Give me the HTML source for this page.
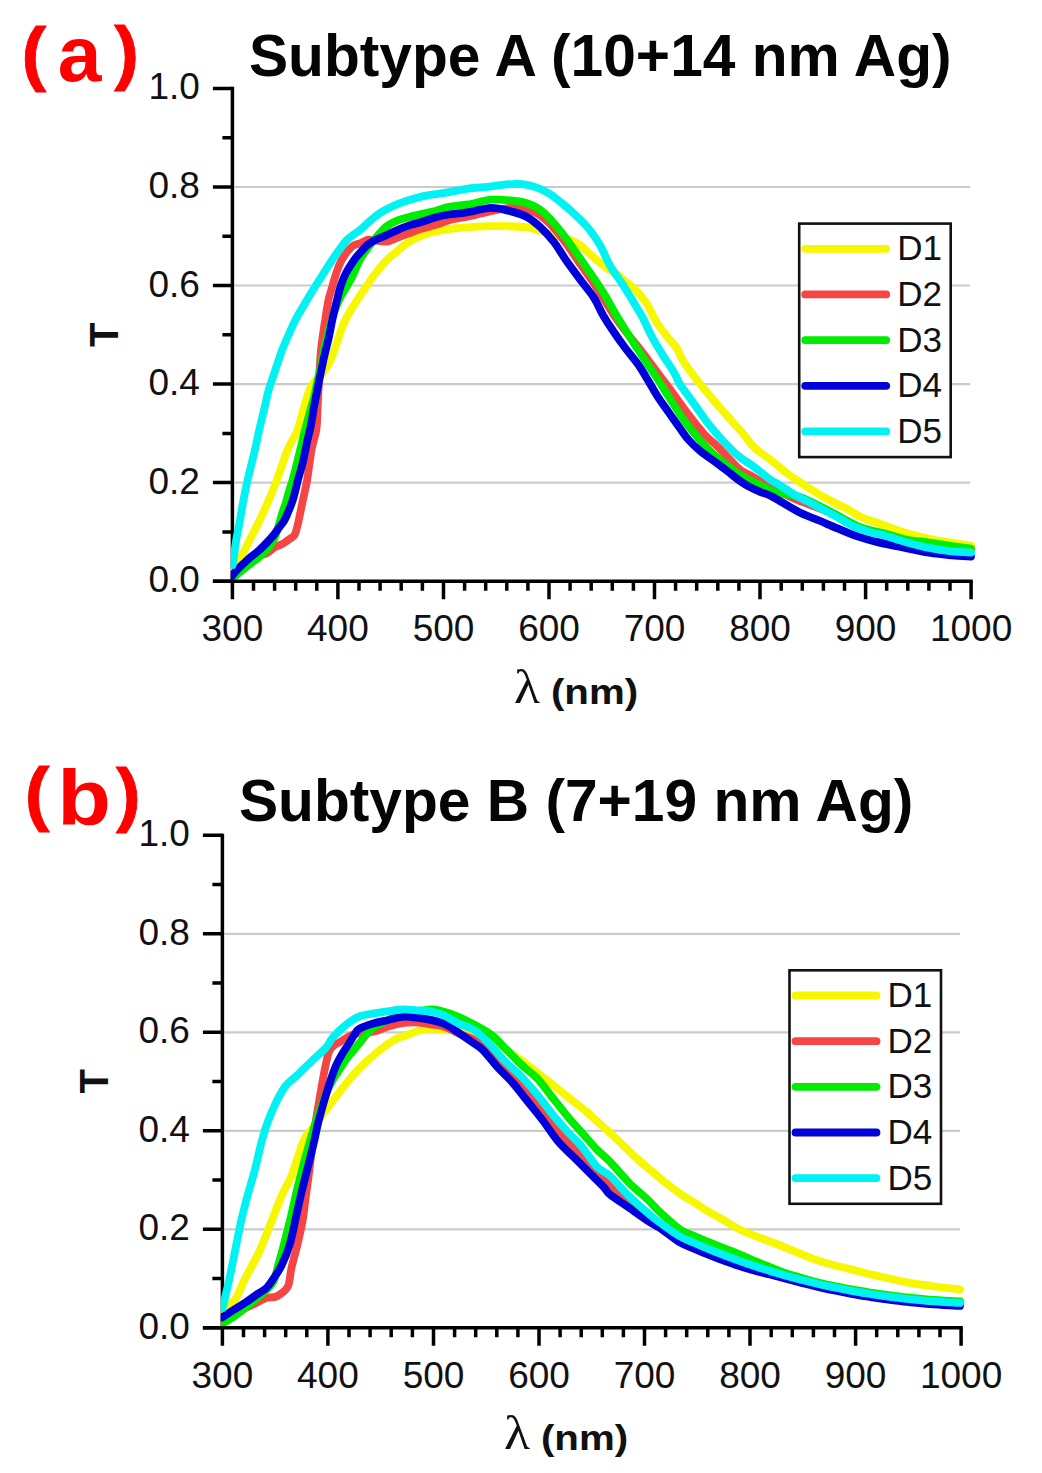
<!DOCTYPE html>
<html><head><meta charset="utf-8"><style>
html,body{margin:0;padding:0;background:#fff;}
svg{display:block;}
text{font-family:"Liberation Sans",sans-serif;fill:#111;}
.tl{font-size:37px;}
.lg{font-size:35px;}
.tt{font-size:58.7px;font-weight:bold;fill:#050505;}
.pl{font-size:78.5px;font-weight:bold;fill:#f00;}
.pp{font-size:70px;font-weight:bold;fill:#f00;stroke:#f00;stroke-width:0.8px;}
.ax{font-size:40px;font-weight:bold;}
.lam{font-family:"Liberation Serif",serif;font-size:48px;}
.nm{font-size:35px;font-weight:bold;}
</style></head><body>
<svg width="1042" height="1473" viewBox="0 0 1042 1473">
<rect width="1042" height="1473" fill="#fff"/>
<line x1="234.4" y1="482.6" x2="970.1" y2="482.6" stroke="#cbcbcb" stroke-width="2.2"/>
<line x1="234.4" y1="384.1" x2="970.1" y2="384.1" stroke="#cbcbcb" stroke-width="2.2"/>
<line x1="234.4" y1="285.5" x2="970.1" y2="285.5" stroke="#cbcbcb" stroke-width="2.2"/>
<line x1="234.4" y1="187.0" x2="970.1" y2="187.0" stroke="#cbcbcb" stroke-width="2.2"/>
<path d="M232.4,86.8 V581.2" fill="none" stroke="#000" stroke-width="3.5"/>
<clipPath id="c581"><rect x="230.7" y="68.4" width="746.7" height="532.8"/></clipPath>
<g clip-path="url(#c581)">
<path d="M232.5,567.0 C233.7,565.8 236.7,564.5 239.5,560.0 C242.3,555.5 246.2,546.7 249.6,540.0 C253.0,533.3 256.5,526.7 259.7,520.0 C262.9,513.3 265.9,506.7 268.8,500.0 C271.7,493.3 273.7,488.3 276.8,480.0 C279.9,471.7 284.9,456.7 287.5,450.0 C290.1,443.3 290.8,443.3 292.5,440.0 C294.2,436.7 295.8,435.0 297.6,430.0 C299.4,425.0 301.2,416.7 303.2,410.0 C305.2,403.3 307.4,395.0 309.5,390.0 C311.6,385.0 313.8,382.9 316.0,380.0 C318.2,377.1 320.8,375.3 323.0,372.5 C325.2,369.7 327.1,366.8 329.0,363.0 C330.9,359.2 332.6,354.7 334.4,350.0 C336.1,345.3 337.7,340.0 339.5,335.0 C341.3,330.0 342.9,325.0 345.3,320.0 C347.7,315.0 350.9,310.0 354.0,305.0 C357.1,300.0 360.4,295.2 363.9,290.0 C367.4,284.8 371.2,279.0 375.0,274.0 C378.8,269.0 383.6,263.4 386.8,260.0 C390.1,256.6 391.9,255.7 394.5,253.5 C397.1,251.3 399.6,248.8 402.2,246.8 C404.8,244.8 407.3,242.9 409.9,241.3 C412.5,239.8 415.0,238.7 417.6,237.5 C420.2,236.3 422.1,235.4 425.3,234.3 C428.5,233.2 432.4,232.1 436.8,231.2 C441.2,230.3 446.7,229.3 452.0,228.7 C457.3,228.0 462.5,227.7 468.4,227.3 C474.3,226.9 481.2,226.4 487.6,226.2 C494.0,226.0 500.4,226.0 506.8,226.2 C513.2,226.4 520.9,226.6 526.0,227.2 C531.1,227.8 532.7,228.7 537.5,230.0 C542.3,231.3 549.2,233.2 555.0,235.0 C560.8,236.8 567.6,238.7 572.0,240.6 C576.4,242.5 578.7,244.1 581.7,246.4 C584.7,248.7 586.2,250.8 590.2,254.3 C594.2,257.8 601.3,264.1 605.9,267.5 C610.5,270.9 614.5,272.4 617.8,274.7 C621.0,277.0 622.4,279.0 625.3,281.5 C628.2,284.0 631.8,286.0 635.3,289.6 C638.8,293.2 643.0,297.8 646.5,303.2 C650.0,308.6 653.2,316.8 656.5,322.2 C659.9,327.6 663.2,331.5 666.5,335.8 C669.9,340.1 673.6,343.4 676.6,348.0 C679.6,352.6 680.7,357.5 684.4,363.2 C688.1,368.9 693.8,376.0 698.8,382.4 C703.9,388.8 709.4,395.4 714.7,401.6 C719.9,407.8 725.8,414.3 730.4,419.5 C735.0,424.7 738.4,428.2 742.5,433.0 C746.6,437.8 750.0,443.3 754.9,448.0 C759.8,452.7 766.1,456.4 772.0,461.0 C777.9,465.6 784.3,471.3 790.2,475.7 C796.1,480.1 801.4,483.4 807.5,487.2 C813.6,491.0 820.3,495.2 826.7,498.7 C833.1,502.2 840.0,505.2 845.9,508.3 C851.8,511.4 855.8,514.7 862.0,517.5 C868.2,520.3 875.7,522.3 883.0,524.9 C890.3,527.5 898.3,530.7 906.0,533.0 C913.7,535.3 921.4,537.1 929.1,538.7 C936.8,540.3 945.1,541.6 952.1,542.8 C959.1,543.9 967.9,545.1 971.0,545.6" fill="none" stroke="#f7f700" stroke-width="7.8" stroke-linejoin="round" stroke-linecap="round"/>
<path d="M232.5,575.0 C234.1,573.5 238.6,569.0 242.0,566.0 C245.4,563.0 248.9,559.1 253.0,557.0 C257.1,554.9 262.9,555.1 266.4,553.5 C269.9,551.9 271.6,549.1 274.1,547.6 C276.7,546.1 279.1,545.7 281.7,544.3 C284.2,542.9 287.2,540.7 289.4,539.1 C291.6,537.5 293.2,537.7 294.8,534.5 C296.4,531.3 297.5,525.8 298.8,520.0 C300.1,514.2 301.5,506.7 302.9,500.0 C304.3,493.3 305.7,488.3 307.1,480.0 C308.5,471.7 310.0,458.3 311.5,450.0 C313.0,441.7 315.3,436.7 316.3,430.0 C317.3,423.3 317.1,417.5 317.5,410.0 C317.9,402.5 318.2,395.0 318.8,385.0 C319.4,375.0 319.9,360.8 321.0,350.0 C322.1,339.2 323.9,328.3 325.2,320.0 C326.4,311.7 327.5,305.0 328.5,300.0 C329.5,295.0 330.1,294.3 331.3,290.0 C332.6,285.7 334.3,279.0 336.0,274.0 C337.7,269.0 339.1,264.5 341.7,260.0 C344.3,255.5 348.6,249.6 351.6,246.8 C354.7,244.0 357.3,244.5 360.0,243.3 C362.7,242.2 365.1,240.4 367.7,239.9 C370.3,239.4 372.2,240.1 375.4,240.4 C378.6,240.7 383.1,242.1 386.9,241.6 C390.7,241.1 394.6,238.7 398.4,237.3 C402.2,235.9 406.1,234.5 409.9,233.1 C413.7,231.7 416.9,230.1 421.4,228.7 C425.9,227.3 432.2,226.0 436.8,224.6 C441.4,223.2 443.9,221.4 449.2,220.1 C454.5,218.8 462.0,217.9 468.4,216.5 C474.8,215.1 481.5,213.2 487.6,211.9 C493.7,210.6 500.2,209.4 505.0,208.7 C509.8,207.9 512.2,207.2 516.4,207.4 C520.6,207.6 525.6,208.4 530.0,210.1 C534.4,211.8 538.8,214.4 542.7,217.3 C546.6,220.2 549.7,223.3 553.6,227.7 C557.5,232.1 562.2,238.1 566.3,243.8 C570.5,249.5 574.4,255.8 578.8,262.0 C583.1,268.2 588.2,275.0 592.3,281.0 C596.3,287.0 599.5,292.3 603.1,298.0 C606.7,303.7 610.0,309.3 613.8,315.0 C617.7,320.7 622.0,326.7 626.0,332.0 C630.1,337.3 634.4,342.2 638.2,347.0 C642.0,351.8 645.3,356.2 648.9,361.0 C652.5,365.8 655.6,370.0 659.7,375.5 C663.8,381.0 668.6,387.2 673.5,394.0 C678.5,400.8 684.3,409.3 689.5,416.0 C694.6,422.7 699.5,429.0 704.4,434.3 C709.4,439.6 713.3,442.2 719.1,448.0 C724.9,453.8 734.0,464.5 739.2,469.0 C744.4,473.5 746.5,473.2 750.0,475.2 C753.5,477.2 755.5,478.5 760.0,481.0 C764.5,483.5 770.8,486.9 776.8,490.0 C782.8,493.1 787.1,495.8 796.0,499.5 C804.9,503.2 819.3,507.8 830.0,512.5 C840.7,517.2 851.2,524.4 860.0,528.0 C868.8,531.6 875.3,531.9 883.0,534.0 C890.7,536.1 898.3,538.8 906.0,540.5 C913.7,542.2 921.3,542.9 929.0,544.0 C936.7,545.1 945.0,546.0 952.0,547.0 C959.0,548.0 967.8,549.5 971.0,550.0" fill="none" stroke="#f54545" stroke-width="7.8" stroke-linejoin="round" stroke-linecap="round"/>
<path d="M232.5,578.5 C233.8,577.4 236.9,574.5 240.0,572.0 C243.1,569.5 247.9,565.9 251.0,563.5 C254.1,561.1 256.4,559.4 258.7,557.5 C260.9,555.6 262.6,553.9 264.5,552.0 C266.4,550.1 268.4,548.2 270.0,546.0 C271.6,543.8 272.7,542.0 274.0,539.0 C275.3,536.0 276.7,532.2 278.0,528.0 C279.3,523.8 280.7,518.3 282.0,514.0 C283.3,509.7 284.8,506.0 286.0,502.0 C287.2,498.0 288.3,493.7 289.4,490.0 C290.5,486.3 291.5,484.0 292.7,479.8 C293.9,475.6 295.2,470.1 296.5,465.0 C297.8,459.9 299.1,454.7 300.3,449.5 C301.6,444.3 302.7,439.1 304.0,434.0 C305.3,428.9 306.8,423.7 308.0,419.0 C309.2,414.3 310.4,409.9 311.5,406.0 C312.6,402.1 313.6,399.2 314.5,395.4 C315.4,391.6 316.0,387.6 317.0,383.0 C318.0,378.4 319.2,374.3 320.5,368.0 C321.8,361.7 323.4,352.0 325.0,345.0 C326.6,338.0 328.3,331.8 330.0,326.0 C331.7,320.2 333.3,314.7 335.0,310.0 C336.7,305.3 338.3,301.5 340.0,298.0 C341.7,294.5 343.2,292.4 345.2,289.0 C347.2,285.6 349.5,282.2 352.0,277.3 C354.5,272.4 357.3,264.7 360.0,259.7 C362.7,254.7 365.5,251.1 368.2,247.4 C370.9,243.7 372.9,241.1 376.0,237.5 C379.1,233.9 383.2,229.0 386.9,226.1 C390.6,223.2 394.6,221.8 398.4,220.2 C402.2,218.6 406.1,217.8 409.9,216.8 C413.7,215.8 416.9,215.2 421.4,214.1 C425.9,213.0 432.2,211.6 436.8,210.4 C441.4,209.2 443.9,207.9 449.2,206.9 C454.5,205.9 461.4,205.6 468.4,204.4 C475.4,203.2 484.0,200.3 491.4,199.7 C498.8,199.1 506.7,200.0 512.5,200.6 C518.3,201.2 521.4,201.5 526.0,203.0 C530.6,204.5 535.4,206.4 540.0,209.7 C544.6,213.0 549.1,217.8 553.6,222.8 C558.1,227.8 562.7,233.9 567.0,239.6 C571.2,245.3 574.7,250.7 579.1,257.0 C583.5,263.3 589.0,271.1 593.3,277.4 C597.6,283.7 601.3,289.1 604.8,295.0 C608.4,300.9 611.4,306.8 614.8,312.7 C618.3,318.6 621.9,324.4 625.6,330.3 C629.3,336.2 633.3,342.4 636.9,348.0 C640.5,353.6 643.9,358.7 647.5,364.0 C651.1,369.3 654.9,374.8 658.2,380.0 C661.6,385.2 663.5,388.7 667.6,395.0 C671.6,401.3 678.0,411.4 682.5,418.0 C687.1,424.6 690.7,429.0 695.0,434.3 C699.3,439.6 704.5,445.5 708.6,449.6 C712.7,453.8 714.6,455.2 719.5,459.2 C724.5,463.2 733.3,470.2 738.4,473.7 C743.5,477.2 746.4,478.4 750.0,480.3 C753.6,482.2 756.7,483.4 760.0,485.0 C763.3,486.6 766.7,488.6 770.0,490.0 C773.3,491.4 775.0,492.3 780.0,493.5 C785.0,494.7 791.7,494.0 800.0,497.0 C808.3,500.0 820.0,506.5 830.0,511.5 C840.0,516.5 851.2,523.4 860.0,527.0 C868.8,530.6 875.3,530.9 883.0,533.0 C890.7,535.1 898.3,537.9 906.0,539.5 C913.7,541.1 921.3,541.4 929.0,542.5 C936.7,543.6 945.0,545.0 952.0,546.0 C959.0,547.0 967.8,548.1 971.0,548.5" fill="none" stroke="#00ec00" stroke-width="7.8" stroke-linejoin="round" stroke-linecap="round"/>
<path d="M232.0,576.0 C232.6,575.2 233.8,573.4 235.7,571.4 C237.6,569.4 240.8,566.1 243.4,563.7 C246.0,561.3 248.4,559.0 251.0,556.8 C253.6,554.6 255.6,553.5 258.7,550.7 C261.8,547.9 266.7,542.8 269.3,540.0 C271.9,537.2 272.8,536.2 274.5,534.0 C276.2,531.8 277.8,529.3 279.5,527.0 C281.2,524.7 283.0,522.8 284.6,520.0 C286.2,517.2 287.6,513.3 289.0,510.0 C290.4,506.7 291.7,503.3 292.8,500.0 C293.9,496.7 294.6,493.3 295.5,490.0 C296.4,486.7 296.7,484.6 297.9,480.0 C299.1,475.4 301.3,468.8 302.9,462.1 C304.5,455.4 306.1,446.2 307.5,440.0 C308.9,433.8 309.9,430.3 311.0,425.0 C312.1,419.7 312.5,415.0 313.8,408.0 C315.1,401.0 317.1,391.1 318.7,383.0 C320.3,374.9 322.0,366.6 323.6,359.2 C325.2,351.8 327.0,345.7 328.5,338.9 C330.0,332.1 331.1,325.3 332.6,318.5 C334.1,311.7 336.1,303.7 337.5,298.1 C338.9,292.5 339.6,289.2 341.0,285.0 C342.4,280.8 343.8,277.1 346.0,273.0 C348.2,268.9 351.7,263.6 354.0,260.2 C356.3,256.8 357.7,255.5 360.0,252.9 C362.3,250.3 365.1,247.0 367.7,244.8 C370.3,242.6 372.2,241.5 375.4,239.9 C378.6,238.3 383.1,236.7 386.9,235.0 C390.7,233.3 394.6,231.2 398.4,229.6 C402.2,227.9 406.1,226.4 409.9,225.1 C413.7,223.8 416.9,223.3 421.4,222.0 C425.9,220.7 432.2,218.2 436.8,217.0 C441.4,215.8 443.9,215.3 449.2,214.5 C454.5,213.7 461.4,213.2 468.4,212.1 C475.4,211.0 484.4,207.9 491.4,207.8 C498.4,207.7 504.8,209.9 510.6,211.3 C516.4,212.8 521.1,213.9 526.0,216.5 C530.9,219.1 535.4,222.7 540.0,226.9 C544.6,231.1 549.2,236.1 553.6,241.7 C558.0,247.3 561.6,253.9 566.2,260.5 C570.9,267.1 577.0,275.3 581.6,281.5 C586.3,287.7 590.4,292.2 594.0,297.8 C597.6,303.4 599.9,309.8 603.2,315.4 C606.5,321.0 610.0,326.3 613.7,331.7 C617.3,337.1 621.2,342.6 625.2,348.0 C629.3,353.4 634.2,358.9 638.0,364.3 C641.8,369.7 644.9,375.2 648.2,380.6 C651.5,386.0 654.6,391.8 657.9,396.9 C661.1,402.0 664.4,406.2 667.9,411.2 C671.4,416.1 675.3,421.8 678.7,426.6 C682.2,431.4 685.0,435.9 688.7,440.0 C692.3,444.1 695.9,447.5 700.8,451.5 C705.7,455.5 713.3,460.5 718.1,464.1 C723.0,467.7 726.4,470.4 730.0,473.2 C733.6,476.0 736.7,478.7 740.0,481.0 C743.3,483.3 746.7,485.4 750.0,487.2 C753.3,489.0 756.7,490.4 760.0,491.8 C763.3,493.2 766.6,493.9 770.0,495.5 C773.4,497.1 775.6,498.7 780.6,501.5 C785.6,504.3 793.4,509.3 799.8,512.5 C806.2,515.7 812.6,517.8 819.0,520.5 C825.4,523.2 831.8,526.1 838.2,528.7 C844.6,531.4 851.0,534.2 857.4,536.4 C863.8,538.6 869.6,540.2 876.6,541.9 C883.6,543.6 890.9,544.9 899.6,546.7 C908.4,548.5 920.4,551.2 929.1,552.6 C937.9,554.0 945.1,554.7 952.1,555.4 C959.1,556.1 967.9,556.4 971.0,556.6" fill="none" stroke="#0000d8" stroke-width="7.8" stroke-linejoin="round" stroke-linecap="round"/>
<path d="M232.5,565.0 C232.8,563.5 233.4,560.2 234.0,556.0 C234.6,551.8 235.2,546.0 236.2,540.0 C237.2,534.0 238.8,526.7 240.0,520.0 C241.2,513.3 242.2,506.7 243.5,500.0 C244.8,493.3 245.7,488.3 247.6,480.0 C249.5,471.7 253.0,458.3 254.9,450.0 C256.8,441.7 257.7,436.7 259.2,430.0 C260.7,423.3 262.4,416.7 264.0,410.0 C265.6,403.3 267.0,396.0 268.7,390.0 C270.4,384.0 272.4,378.7 274.0,374.0 C275.6,369.3 276.6,366.0 278.0,362.0 C279.4,358.0 280.4,354.5 282.1,350.0 C283.9,345.5 286.3,340.0 288.5,335.0 C290.7,330.0 292.8,325.0 295.4,320.0 C298.0,315.0 301.1,310.0 304.0,305.0 C306.9,300.0 309.9,295.0 313.0,290.0 C316.1,285.0 319.3,280.0 322.5,275.0 C325.7,270.0 329.3,264.2 332.1,260.0 C334.9,255.8 337.1,252.8 339.5,249.5 C341.9,246.2 344.6,242.4 346.8,240.0 C349.1,237.6 350.8,236.7 353.0,235.0 C355.2,233.3 357.2,232.3 360.0,230.0 C362.8,227.7 366.7,223.8 370.0,221.0 C373.3,218.2 376.7,215.2 380.0,213.0 C383.3,210.8 386.7,209.1 390.0,207.5 C393.3,205.9 395.7,204.8 400.0,203.2 C404.3,201.6 411.0,199.4 416.0,198.0 C421.0,196.6 424.5,195.9 430.0,194.9 C435.5,193.9 442.8,193.2 449.2,192.1 C455.6,191.0 462.0,189.5 468.4,188.6 C474.8,187.7 481.2,187.5 487.6,186.8 C494.0,186.1 501.1,184.9 506.8,184.4 C512.5,183.9 517.3,183.7 522.1,184.1 C526.9,184.5 531.1,185.6 535.6,187.1 C540.1,188.6 544.9,190.9 549.0,193.3 C553.1,195.7 556.5,198.9 560.0,201.7 C563.5,204.5 565.3,205.8 569.9,210.0 C574.5,214.2 582.5,221.4 587.5,227.2 C592.5,233.0 596.0,238.5 599.8,244.8 C603.5,251.1 606.0,258.6 609.8,265.2 C613.6,271.8 618.5,278.1 622.4,284.2 C626.3,290.3 629.9,296.1 633.3,301.8 C636.7,307.5 639.9,312.4 642.9,318.1 C646.0,323.8 648.3,329.9 651.4,335.8 C654.5,341.7 657.9,347.3 661.7,353.4 C665.5,359.5 670.9,367.2 674.0,372.4 C677.1,377.6 676.7,379.2 680.1,384.4 C683.4,389.6 689.3,397.2 693.9,403.6 C698.5,410.0 703.1,416.9 707.5,422.7 C711.9,428.4 715.4,432.6 720.4,438.1 C725.5,443.6 732.8,451.2 737.8,455.5 C742.7,459.8 746.3,461.3 750.0,464.0 C753.7,466.7 756.7,468.9 760.0,471.5 C763.3,474.1 766.7,477.2 770.0,479.5 C773.3,481.8 775.7,482.7 780.0,485.4 C784.3,488.1 790.1,492.1 796.0,495.5 C801.9,498.9 808.8,502.1 815.2,505.5 C821.6,508.9 828.0,512.2 834.4,515.7 C840.8,519.2 847.2,523.5 853.6,526.4 C860.0,529.3 867.8,531.6 872.7,533.0 C877.6,534.4 877.5,533.5 883.0,535.0 C888.5,536.5 898.3,540.1 906.0,542.2 C913.7,544.4 921.4,546.4 929.1,547.9 C936.8,549.4 945.1,550.6 952.1,551.4 C959.1,552.2 967.9,552.4 971.0,552.6" fill="none" stroke="#00f2f2" stroke-width="7.8" stroke-linejoin="round" stroke-linecap="round"/>
</g>
<path d="M212.9,581.2 H972.8" fill="none" stroke="#000" stroke-width="3.5"/>
<path d="M212.9,581.2 H232.4 M222.4,531.9 H232.4 M212.9,482.6 H232.4 M222.4,433.4 H232.4 M212.9,384.1 H232.4 M222.4,334.8 H232.4 M212.9,285.5 H232.4 M222.4,236.2 H232.4 M212.9,187.0 H232.4 M222.4,137.7 H232.4 M212.9,88.4 H232.4 M232.4,581.2 V599.2 M253.5,581.2 V590.7 M274.6,581.2 V590.7 M295.7,581.2 V590.7 M316.8,581.2 V590.7 M337.9,581.2 V599.2 M359.0,581.2 V590.7 M380.1,581.2 V590.7 M401.2,581.2 V590.7 M422.4,581.2 V590.7 M443.5,581.2 V599.2 M464.6,581.2 V590.7 M485.7,581.2 V590.7 M506.8,581.2 V590.7 M527.9,581.2 V590.7 M549.0,581.2 V599.2 M570.1,581.2 V590.7 M591.2,581.2 V590.7 M612.3,581.2 V590.7 M633.4,581.2 V590.7 M654.5,581.2 V599.2 M675.6,581.2 V590.7 M696.7,581.2 V590.7 M717.8,581.2 V590.7 M738.9,581.2 V590.7 M760.0,581.2 V599.2 M781.2,581.2 V590.7 M802.3,581.2 V590.7 M823.4,581.2 V590.7 M844.5,581.2 V590.7 M865.6,581.2 V599.2 M886.7,581.2 V590.7 M907.8,581.2 V590.7 M928.9,581.2 V590.7 M950.0,581.2 V590.7 M971.1,581.2 V599.2" fill="none" stroke="#000" stroke-width="3.5"/>
<text x="199.9" y="592.2" text-anchor="end" class="tl">0.0</text>
<text x="199.9" y="493.6" text-anchor="end" class="tl">0.2</text>
<text x="199.9" y="395.1" text-anchor="end" class="tl">0.4</text>
<text x="199.9" y="296.5" text-anchor="end" class="tl">0.6</text>
<text x="199.9" y="198.0" text-anchor="end" class="tl">0.8</text>
<text x="199.9" y="99.4" text-anchor="end" class="tl">1.0</text>
<text x="232.4" y="641.2" text-anchor="middle" class="tl">300</text>
<text x="337.9" y="641.2" text-anchor="middle" class="tl">400</text>
<text x="443.5" y="641.2" text-anchor="middle" class="tl">500</text>
<text x="549.0" y="641.2" text-anchor="middle" class="tl">600</text>
<text x="654.5" y="641.2" text-anchor="middle" class="tl">700</text>
<text x="760.0" y="641.2" text-anchor="middle" class="tl">800</text>
<text x="865.6" y="641.2" text-anchor="middle" class="tl">900</text>
<text x="971.1" y="641.2" text-anchor="middle" class="tl">1000</text>
<rect x="799.2" y="223.6" width="151.5" height="233.5" fill="#fff" stroke="#111" stroke-width="2.6"/>
<line x1="805.2" y1="248.8" x2="886.2" y2="248.8" stroke="#f7f700" stroke-width="7.8" stroke-linecap="round"/>
<text x="897.2" y="260.4" class="lg">D1</text>
<line x1="805.2" y1="294.4" x2="886.2" y2="294.4" stroke="#f54545" stroke-width="7.8" stroke-linecap="round"/>
<text x="897.2" y="306.0" class="lg">D2</text>
<line x1="805.2" y1="340.1" x2="886.2" y2="340.1" stroke="#00ec00" stroke-width="7.8" stroke-linecap="round"/>
<text x="897.2" y="351.6" class="lg">D3</text>
<line x1="805.2" y1="385.8" x2="886.2" y2="385.8" stroke="#0000d8" stroke-width="7.8" stroke-linecap="round"/>
<text x="897.2" y="397.2" class="lg">D4</text>
<line x1="805.2" y1="431.4" x2="886.2" y2="431.4" stroke="#00f2f2" stroke-width="7.8" stroke-linecap="round"/>
<text x="897.2" y="442.8" class="lg">D5</text>
<text x="248.9" y="76.1" class="tt">Subtype A (10+14 nm Ag)</text>
<text transform="translate(21.6,77.3) scale(1.06,1)" class="pp">(</text>
<text transform="translate(57.8,81.3) scale(1,1)" class="pl">a</text>
<text transform="translate(114.2,75.9) scale(1.06,1)" class="pp">)</text>
<text transform="translate(117.9,334.7) rotate(-90)" text-anchor="middle" class="ax">T</text>
<text transform="translate(513.9,702.7) scale(1.12,1)" class="lam">λ</text>
<text transform="translate(550.9,703.8) scale(1.15,1)" class="nm">(nm)</text>
<line x1="224.4" y1="1229.3" x2="960.1" y2="1229.3" stroke="#cbcbcb" stroke-width="2.2"/>
<line x1="224.4" y1="1130.8" x2="960.1" y2="1130.8" stroke="#cbcbcb" stroke-width="2.2"/>
<line x1="224.4" y1="1032.3" x2="960.1" y2="1032.3" stroke="#cbcbcb" stroke-width="2.2"/>
<line x1="224.4" y1="933.8" x2="960.1" y2="933.8" stroke="#cbcbcb" stroke-width="2.2"/>
<path d="M222.4,833.7 V1327.8" fill="none" stroke="#000" stroke-width="3.5"/>
<clipPath id="c1327"><rect x="220.7" y="815.3" width="746.7" height="532.5"/></clipPath>
<g clip-path="url(#c1327)">
<path d="M222.5,1309.0 C224.6,1307.5 231.2,1304.8 234.9,1300.0 C238.6,1295.2 240.2,1288.3 244.4,1280.0 C248.6,1271.7 255.4,1260.0 260.0,1250.0 C264.6,1240.0 268.3,1229.2 272.0,1220.0 C275.7,1210.8 278.8,1202.3 282.0,1195.0 C285.2,1187.7 288.8,1182.2 291.4,1176.0 C294.0,1169.8 295.4,1164.0 297.5,1158.0 C299.6,1152.0 301.6,1144.7 303.9,1140.0 C306.1,1135.3 308.6,1133.3 311.0,1130.0 C313.4,1126.7 316.1,1123.3 318.6,1120.0 C321.1,1116.7 323.5,1113.3 326.0,1110.0 C328.5,1106.7 330.2,1104.2 333.4,1100.0 C336.6,1095.8 340.9,1090.0 345.0,1085.0 C349.1,1080.0 352.8,1075.2 357.8,1070.0 C362.8,1064.8 369.0,1059.0 375.0,1054.0 C381.0,1049.0 388.7,1043.2 394.0,1040.0 C399.3,1036.8 402.2,1036.8 407.0,1035.0 C411.8,1033.2 417.8,1030.5 423.0,1029.5 C428.2,1028.5 433.8,1028.9 438.0,1029.0 C442.2,1029.1 444.3,1029.7 448.0,1030.0 C451.7,1030.3 455.5,1030.3 460.0,1031.0 C464.5,1031.7 470.0,1032.5 475.0,1034.0 C480.0,1035.5 484.8,1037.3 490.0,1040.0 C495.2,1042.7 500.7,1046.5 506.0,1050.0 C511.3,1053.5 516.8,1057.2 522.0,1061.0 C527.2,1064.8 531.9,1068.3 537.3,1072.5 C542.7,1076.7 548.8,1081.7 554.5,1086.3 C560.2,1090.9 566.6,1096.0 571.8,1100.1 C577.0,1104.2 581.3,1107.3 585.6,1111.0 C589.9,1114.7 593.6,1118.3 597.7,1122.0 C601.8,1125.7 605.7,1128.9 610.1,1133.0 C614.6,1137.1 619.8,1142.3 624.5,1146.7 C629.1,1151.1 633.5,1155.5 638.0,1159.5 C642.6,1163.5 647.1,1167.2 651.6,1171.0 C656.1,1174.8 660.3,1178.6 665.3,1182.5 C670.2,1186.4 676.1,1190.9 681.3,1194.5 C686.5,1198.1 692.7,1201.5 696.7,1204.0 C700.6,1206.5 700.8,1207.1 704.8,1209.5 C708.8,1211.9 715.5,1215.4 720.7,1218.4 C725.9,1221.4 731.0,1224.9 736.1,1227.6 C741.2,1230.3 745.8,1232.2 751.4,1234.5 C757.0,1236.8 764.3,1239.3 770.0,1241.5 C775.7,1243.7 780.3,1245.5 785.4,1247.6 C790.5,1249.6 795.6,1251.8 800.7,1253.8 C805.8,1255.8 811.0,1258.1 816.1,1259.9 C821.2,1261.7 825.8,1263.0 831.4,1264.5 C837.0,1266.0 841.9,1267.1 850.0,1269.1 C858.1,1271.1 870.0,1274.2 880.0,1276.5 C890.0,1278.8 900.8,1281.1 910.0,1282.8 C919.2,1284.5 926.7,1285.4 935.0,1286.5 C943.3,1287.6 955.8,1289.0 960.0,1289.5" fill="none" stroke="#f7f700" stroke-width="7.8" stroke-linejoin="round" stroke-linecap="round"/>
<path d="M222.0,1322.0 C224.4,1320.5 230.8,1316.0 236.1,1313.0 C241.5,1310.0 249.2,1306.4 254.2,1303.9 C259.1,1301.4 262.1,1299.4 266.0,1298.1 C269.8,1296.8 273.4,1298.1 277.0,1296.2 C280.6,1294.3 285.4,1291.4 287.8,1286.6 C290.2,1281.8 289.9,1274.4 291.6,1267.4 C293.2,1260.4 295.7,1252.1 297.5,1244.4 C299.3,1236.7 301.1,1229.0 302.5,1221.3 C303.8,1213.6 304.5,1206.5 305.6,1198.0 C306.8,1189.5 308.2,1179.7 309.4,1170.0 C310.7,1160.3 311.7,1149.3 312.9,1140.0 C314.2,1130.7 315.8,1121.1 317.0,1114.0 C318.1,1106.9 318.4,1105.4 319.8,1097.5 C321.1,1089.6 323.7,1074.5 325.3,1066.8 C326.8,1059.1 327.6,1055.0 329.1,1051.4 C330.6,1047.8 332.6,1046.6 334.5,1045.0 C336.3,1043.4 336.9,1043.6 340.2,1041.8 C343.5,1040.0 348.9,1035.8 354.4,1034.1 C359.9,1032.4 367.7,1032.9 373.2,1031.7 C378.7,1030.5 382.8,1028.1 387.6,1026.7 C392.4,1025.3 397.2,1023.8 402.0,1023.1 C406.8,1022.4 411.6,1022.2 416.4,1022.4 C421.2,1022.6 426.0,1023.6 430.8,1024.4 C435.6,1025.2 440.1,1025.4 445.0,1027.0 C449.9,1028.6 455.2,1031.9 460.0,1034.0 C464.8,1036.1 468.8,1036.9 473.7,1039.7 C478.6,1042.5 484.0,1046.5 489.1,1051.1 C494.2,1055.7 499.4,1062.1 504.5,1067.5 C509.6,1072.9 514.7,1077.7 519.8,1083.7 C524.9,1089.7 530.1,1096.8 535.2,1103.3 C540.3,1109.8 545.4,1116.8 550.5,1123.0 C555.6,1129.2 560.8,1135.0 565.9,1140.5 C571.0,1146.0 576.1,1150.6 581.2,1156.0 C586.3,1161.4 591.8,1168.2 596.6,1173.0 C601.4,1177.8 604.6,1180.2 610.0,1185.0 C615.4,1189.8 622.8,1196.7 629.2,1202.0 C635.6,1207.3 642.0,1212.2 648.4,1217.0 C654.8,1221.8 662.3,1227.2 667.6,1231.0 C672.9,1234.8 675.4,1237.0 680.0,1239.5 C684.6,1242.0 690.0,1244.0 695.0,1246.1 C700.0,1248.2 705.0,1250.3 710.0,1252.3 C715.0,1254.3 720.0,1256.2 725.0,1258.1 C730.0,1259.9 735.0,1261.8 740.0,1263.4 C745.0,1265.0 750.0,1266.5 755.0,1267.9 C760.0,1269.3 765.0,1270.7 770.0,1272.0 C775.0,1273.3 780.0,1274.2 785.0,1275.5 C790.0,1276.8 795.0,1278.2 800.0,1279.5 C805.0,1280.8 810.0,1282.0 815.0,1283.2 C820.0,1284.4 824.2,1285.4 830.0,1286.6 C835.8,1287.8 843.3,1289.4 850.0,1290.6 C856.7,1291.8 863.3,1293.0 870.0,1294.0 C876.7,1295.0 883.3,1296.0 890.0,1296.9 C896.7,1297.8 903.3,1298.5 910.0,1299.2 C916.7,1299.9 923.3,1300.6 930.0,1301.1 C936.7,1301.6 945.0,1302.1 950.0,1302.4 C955.0,1302.7 958.3,1302.8 960.0,1302.9" fill="none" stroke="#f54545" stroke-width="7.8" stroke-linejoin="round" stroke-linecap="round"/>
<path d="M222.0,1324.0 C224.3,1322.5 231.2,1318.5 236.0,1315.0 C240.9,1311.5 246.6,1306.7 251.1,1303.0 C255.6,1299.3 259.5,1296.5 263.1,1293.0 C266.8,1289.5 270.7,1286.7 273.2,1282.0 C275.7,1277.3 276.5,1271.0 278.2,1265.0 C279.9,1259.0 281.5,1253.8 283.5,1246.0 C285.6,1238.2 288.4,1227.0 290.6,1218.0 C292.7,1209.0 294.5,1200.3 296.4,1192.0 C298.4,1183.7 300.5,1175.7 302.5,1168.0 C304.5,1160.3 306.6,1152.7 308.5,1146.0 C310.4,1139.3 312.0,1134.0 313.9,1128.0 C315.8,1122.0 317.7,1116.0 319.9,1110.0 C322.0,1104.0 324.6,1097.0 326.8,1092.0 C328.9,1087.0 330.7,1083.6 332.7,1080.0 C334.7,1076.4 336.7,1073.9 338.8,1070.6 C341.0,1067.3 343.1,1063.5 345.7,1060.0 C348.3,1056.5 351.7,1052.8 354.3,1049.5 C356.9,1046.2 359.2,1043.3 361.5,1040.5 C363.8,1037.7 365.8,1034.8 368.0,1032.5 C370.2,1030.2 372.7,1028.1 375.0,1026.5 C377.3,1024.9 379.5,1024.2 382.0,1023.0 C384.5,1021.8 387.3,1020.6 390.0,1019.5 C392.7,1018.4 394.7,1017.6 398.0,1016.5 C401.3,1015.4 404.4,1014.2 410.0,1013.0 C415.6,1011.8 425.7,1009.6 431.5,1009.5 C437.3,1009.4 440.5,1010.9 445.0,1012.1 C449.5,1013.3 453.0,1014.5 458.4,1016.9 C463.8,1019.3 471.9,1023.3 477.6,1026.5 C483.4,1029.7 488.1,1032.3 492.9,1036.1 C497.7,1039.9 501.6,1044.7 506.4,1049.5 C511.2,1054.3 516.6,1060.1 521.7,1064.9 C526.8,1069.7 532.0,1072.9 537.1,1078.3 C542.2,1083.7 547.3,1091.1 552.4,1097.5 C557.5,1103.9 562.7,1110.6 567.8,1116.7 C572.9,1122.8 578.3,1128.6 583.1,1134.0 C587.9,1139.4 592.1,1144.7 596.6,1149.3 C601.1,1153.9 604.6,1156.2 610.0,1161.8 C615.4,1167.4 622.8,1176.5 629.2,1182.9 C635.6,1189.3 643.3,1195.3 648.4,1200.2 C653.5,1205.1 654.7,1207.3 660.0,1212.2 C665.3,1217.1 674.2,1225.5 680.0,1229.5 C685.8,1233.5 690.0,1234.1 695.0,1236.3 C700.0,1238.5 705.0,1240.5 710.0,1242.6 C715.0,1244.6 720.0,1246.6 725.0,1248.6 C730.0,1250.6 735.0,1252.4 740.0,1254.5 C745.0,1256.6 750.0,1259.0 755.0,1261.1 C760.0,1263.2 765.0,1265.0 770.0,1267.0 C775.0,1269.0 780.0,1271.2 785.0,1273.0 C790.0,1274.8 795.0,1276.0 800.0,1277.5 C805.0,1279.0 810.0,1280.4 815.0,1281.7 C820.0,1283.0 824.2,1283.9 830.0,1285.1 C835.8,1286.3 843.3,1287.9 850.0,1289.1 C856.7,1290.3 863.3,1291.5 870.0,1292.5 C876.7,1293.5 883.3,1294.5 890.0,1295.4 C896.7,1296.3 903.3,1297.0 910.0,1297.7 C916.7,1298.4 923.3,1299.1 930.0,1299.6 C936.7,1300.1 945.0,1300.6 950.0,1300.9 C955.0,1301.2 958.3,1301.3 960.0,1301.4" fill="none" stroke="#00ec00" stroke-width="7.8" stroke-linejoin="round" stroke-linecap="round"/>
<path d="M222.0,1317.5 C223.9,1316.2 229.4,1312.6 233.5,1310.0 C237.5,1307.4 242.4,1304.6 246.3,1302.0 C250.3,1299.4 253.9,1296.5 257.1,1294.3 C260.4,1292.0 263.2,1291.1 265.9,1288.5 C268.6,1285.9 270.6,1282.7 273.2,1278.9 C275.8,1275.1 278.8,1271.2 281.5,1265.5 C284.3,1259.8 287.4,1252.4 289.8,1244.4 C292.2,1236.4 293.9,1226.5 295.9,1217.5 C297.9,1208.5 299.9,1198.9 301.9,1190.6 C303.9,1182.3 306.1,1173.9 307.7,1167.6 C309.3,1161.3 310.2,1157.9 311.4,1153.0 C312.6,1148.1 313.7,1143.3 314.9,1138.0 C316.1,1132.7 316.7,1128.4 318.6,1121.0 C320.6,1113.6 323.6,1102.4 326.4,1093.6 C329.1,1084.8 332.4,1074.4 335.0,1068.0 C337.5,1061.6 339.2,1059.2 341.6,1055.0 C344.0,1050.8 347.1,1046.5 349.3,1043.0 C351.5,1039.5 353.2,1036.3 354.9,1034.0 C356.5,1031.7 356.2,1030.6 359.2,1028.9 C362.3,1027.2 368.5,1025.0 373.2,1023.6 C377.9,1022.1 382.8,1021.3 387.6,1020.2 C392.4,1019.1 397.2,1017.2 402.0,1016.8 C406.8,1016.3 411.6,1017.0 416.4,1017.5 C421.2,1018.0 426.0,1018.8 430.8,1019.9 C435.6,1021.0 440.4,1022.0 445.2,1024.2 C450.0,1026.5 454.8,1030.2 459.6,1033.4 C464.4,1036.6 470.1,1040.6 474.0,1043.4 C477.9,1046.2 479.5,1046.6 483.3,1050.4 C487.1,1054.2 492.0,1061.0 496.8,1066.3 C501.6,1071.6 507.0,1076.3 512.1,1082.1 C517.2,1087.9 522.4,1094.9 527.5,1101.3 C532.6,1107.7 537.7,1113.8 542.8,1120.5 C547.9,1127.2 553.1,1135.5 558.2,1141.6 C563.3,1147.7 568.5,1151.9 573.6,1157.0 C578.7,1162.1 583.8,1167.2 588.9,1172.3 C594.0,1177.4 600.8,1184.0 604.3,1187.7 C607.8,1191.4 605.9,1191.1 610.0,1194.5 C614.1,1197.9 622.8,1203.4 629.2,1207.9 C635.6,1212.4 643.3,1218.0 648.4,1221.3 C653.5,1224.6 654.7,1224.5 660.0,1228.0 C665.3,1231.5 674.2,1239.0 680.0,1242.5 C685.8,1246.0 690.0,1247.0 695.0,1249.1 C700.0,1251.2 705.0,1253.3 710.0,1255.3 C715.0,1257.3 720.0,1259.2 725.0,1261.0 C730.0,1262.8 735.0,1264.7 740.0,1266.3 C745.0,1267.9 750.0,1269.4 755.0,1270.8 C760.0,1272.2 765.0,1273.2 770.0,1274.5 C775.0,1275.8 780.0,1277.2 785.0,1278.5 C790.0,1279.8 795.0,1281.2 800.0,1282.5 C805.0,1283.8 810.0,1285.0 815.0,1286.2 C820.0,1287.4 824.2,1288.4 830.0,1289.6 C835.8,1290.8 843.3,1292.4 850.0,1293.6 C856.7,1294.8 863.3,1296.0 870.0,1297.0 C876.7,1298.0 883.3,1299.0 890.0,1299.9 C896.7,1300.8 903.3,1301.5 910.0,1302.2 C916.7,1302.9 923.3,1303.6 930.0,1304.1 C936.7,1304.6 945.0,1305.1 950.0,1305.4 C955.0,1305.7 958.3,1305.8 960.0,1305.9" fill="none" stroke="#0000d8" stroke-width="7.8" stroke-linejoin="round" stroke-linecap="round"/>
<path d="M222.5,1308.0 C223.7,1302.8 227.6,1287.0 229.8,1277.0 C231.9,1267.0 233.6,1257.8 235.6,1248.2 C237.5,1238.6 239.5,1228.1 241.5,1219.4 C243.5,1210.7 245.2,1204.2 247.4,1196.0 C249.6,1187.8 252.4,1179.2 254.8,1170.0 C257.2,1160.8 259.6,1149.2 261.8,1141.0 C264.1,1132.8 265.8,1127.1 268.3,1120.5 C270.8,1113.9 273.8,1107.0 276.6,1101.3 C279.5,1095.5 282.0,1090.5 285.5,1086.0 C289.1,1081.5 293.7,1078.7 298.0,1074.5 C302.4,1070.3 307.2,1065.5 311.8,1061.0 C316.5,1056.5 322.6,1051.4 326.0,1047.6 C329.5,1043.8 329.3,1041.6 332.4,1038.0 C335.5,1034.4 340.1,1029.6 344.5,1026.0 C348.9,1022.4 354.0,1018.7 358.8,1016.6 C363.6,1014.5 368.4,1014.5 373.2,1013.6 C378.0,1012.7 382.8,1012.1 387.6,1011.4 C392.4,1010.7 397.2,1009.7 402.0,1009.5 C406.8,1009.3 411.6,1010.0 416.4,1010.3 C421.2,1010.6 426.4,1010.7 430.8,1011.5 C435.2,1012.3 438.4,1013.0 443.0,1015.0 C447.6,1017.0 453.3,1021.0 458.4,1023.5 C463.5,1026.0 468.6,1026.5 473.7,1029.8 C478.8,1033.1 484.0,1038.4 489.1,1043.6 C494.2,1048.8 499.2,1055.4 504.5,1060.9 C509.8,1066.4 515.5,1070.6 521.1,1076.4 C526.7,1082.2 532.6,1089.2 537.9,1095.6 C543.2,1102.0 547.8,1108.7 552.8,1114.8 C557.7,1120.9 562.8,1126.6 567.7,1132.0 C572.7,1137.4 577.5,1141.6 582.4,1147.4 C587.2,1153.2 592.2,1161.8 596.8,1166.6 C601.4,1171.4 604.6,1171.0 610.0,1176.0 C615.4,1181.0 622.8,1190.1 629.2,1196.4 C635.6,1202.7 643.3,1209.2 648.4,1213.6 C653.5,1218.0 654.7,1218.8 660.0,1222.6 C665.3,1226.4 674.2,1233.1 680.0,1236.5 C685.8,1239.9 690.0,1241.0 695.0,1243.2 C700.0,1245.4 705.0,1247.5 710.0,1249.6 C715.0,1251.6 720.0,1253.6 725.0,1255.5 C730.0,1257.4 735.0,1259.3 740.0,1261.1 C745.0,1262.9 750.0,1264.5 755.0,1266.2 C760.0,1267.9 765.0,1269.5 770.0,1271.0 C775.0,1272.5 780.0,1274.1 785.0,1275.5 C790.0,1276.9 795.0,1278.2 800.0,1279.5 C805.0,1280.8 810.0,1282.0 815.0,1283.2 C820.0,1284.4 824.2,1285.4 830.0,1286.6 C835.8,1287.8 843.3,1289.4 850.0,1290.6 C856.7,1291.8 863.3,1293.0 870.0,1294.0 C876.7,1295.0 883.3,1296.0 890.0,1296.9 C896.7,1297.8 903.3,1298.5 910.0,1299.2 C916.7,1299.9 923.3,1300.6 930.0,1301.1 C936.7,1301.6 945.0,1302.1 950.0,1302.4 C955.0,1302.7 958.3,1302.8 960.0,1302.9" fill="none" stroke="#00f2f2" stroke-width="7.8" stroke-linejoin="round" stroke-linecap="round"/>
</g>
<path d="M202.9,1327.8 H962.8" fill="none" stroke="#000" stroke-width="3.5"/>
<path d="M202.9,1327.8 H222.4 M212.4,1278.5 H222.4 M202.9,1229.3 H222.4 M212.4,1180.0 H222.4 M202.9,1130.8 H222.4 M212.4,1081.5 H222.4 M202.9,1032.3 H222.4 M212.4,983.0 H222.4 M202.9,933.8 H222.4 M212.4,884.5 H222.4 M202.9,835.3 H222.4 M222.4,1327.8 V1345.8 M243.5,1327.8 V1337.3 M264.6,1327.8 V1337.3 M285.7,1327.8 V1337.3 M306.8,1327.8 V1337.3 M327.9,1327.8 V1345.8 M349.0,1327.8 V1337.3 M370.1,1327.8 V1337.3 M391.2,1327.8 V1337.3 M412.4,1327.8 V1337.3 M433.5,1327.8 V1345.8 M454.6,1327.8 V1337.3 M475.7,1327.8 V1337.3 M496.8,1327.8 V1337.3 M517.9,1327.8 V1337.3 M539.0,1327.8 V1345.8 M560.1,1327.8 V1337.3 M581.2,1327.8 V1337.3 M602.3,1327.8 V1337.3 M623.4,1327.8 V1337.3 M644.5,1327.8 V1345.8 M665.6,1327.8 V1337.3 M686.7,1327.8 V1337.3 M707.8,1327.8 V1337.3 M728.9,1327.8 V1337.3 M750.0,1327.8 V1345.8 M771.2,1327.8 V1337.3 M792.3,1327.8 V1337.3 M813.4,1327.8 V1337.3 M834.5,1327.8 V1337.3 M855.6,1327.8 V1345.8 M876.7,1327.8 V1337.3 M897.8,1327.8 V1337.3 M918.9,1327.8 V1337.3 M940.0,1327.8 V1337.3 M961.1,1327.8 V1345.8" fill="none" stroke="#000" stroke-width="3.5"/>
<text x="189.9" y="1338.8" text-anchor="end" class="tl">0.0</text>
<text x="189.9" y="1240.3" text-anchor="end" class="tl">0.2</text>
<text x="189.9" y="1141.8" text-anchor="end" class="tl">0.4</text>
<text x="189.9" y="1043.3" text-anchor="end" class="tl">0.6</text>
<text x="189.9" y="944.8" text-anchor="end" class="tl">0.8</text>
<text x="189.9" y="846.3" text-anchor="end" class="tl">1.0</text>
<text x="222.4" y="1387.8" text-anchor="middle" class="tl">300</text>
<text x="327.9" y="1387.8" text-anchor="middle" class="tl">400</text>
<text x="433.5" y="1387.8" text-anchor="middle" class="tl">500</text>
<text x="539.0" y="1387.8" text-anchor="middle" class="tl">600</text>
<text x="644.5" y="1387.8" text-anchor="middle" class="tl">700</text>
<text x="750.0" y="1387.8" text-anchor="middle" class="tl">800</text>
<text x="855.6" y="1387.8" text-anchor="middle" class="tl">900</text>
<text x="961.1" y="1387.8" text-anchor="middle" class="tl">1000</text>
<rect x="789.5" y="970.3" width="151.5" height="233.5" fill="#fff" stroke="#111" stroke-width="2.6"/>
<line x1="795.5" y1="995.5" x2="876.5" y2="995.5" stroke="#f7f700" stroke-width="7.8" stroke-linecap="round"/>
<text x="887.5" y="1007.1" class="lg">D1</text>
<line x1="795.5" y1="1041.2" x2="876.5" y2="1041.2" stroke="#f54545" stroke-width="7.8" stroke-linecap="round"/>
<text x="887.5" y="1052.7" class="lg">D2</text>
<line x1="795.5" y1="1086.8" x2="876.5" y2="1086.8" stroke="#00ec00" stroke-width="7.8" stroke-linecap="round"/>
<text x="887.5" y="1098.3" class="lg">D3</text>
<line x1="795.5" y1="1132.5" x2="876.5" y2="1132.5" stroke="#0000d8" stroke-width="7.8" stroke-linecap="round"/>
<text x="887.5" y="1143.9" class="lg">D4</text>
<line x1="795.5" y1="1178.1" x2="876.5" y2="1178.1" stroke="#00f2f2" stroke-width="7.8" stroke-linecap="round"/>
<text x="887.5" y="1189.5" class="lg">D5</text>
<text x="238.9" y="821.2" class="tt">Subtype B (7+19 nm Ag)</text>
<text transform="translate(24.7,816.8) scale(1.06,1)" class="pp">(</text>
<text transform="translate(57.2,824.5) scale(1.12,1)" class="pl">b</text>
<text transform="translate(116.1,818) scale(1.06,1)" class="pp">)</text>
<text transform="translate(107.9,1081.3) rotate(-90)" text-anchor="middle" class="ax">T</text>
<text transform="translate(503.9,1449.3) scale(1.12,1)" class="lam">λ</text>
<text transform="translate(540.9,1450.4) scale(1.15,1)" class="nm">(nm)</text>
</svg>
</body></html>
